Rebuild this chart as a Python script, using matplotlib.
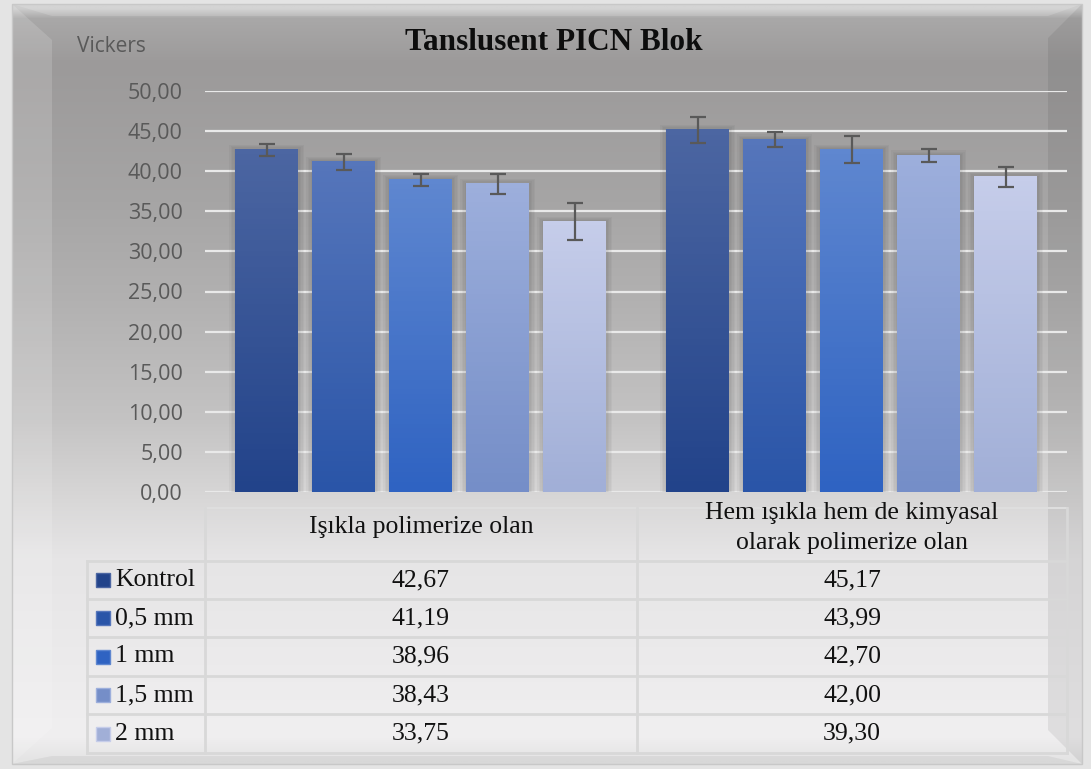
import numpy as np
import matplotlib
matplotlib.use("Agg")
import matplotlib.pyplot as plt
from matplotlib.patches import Rectangle, Polygon
from matplotlib.colors import to_rgb
from matplotlib.ticker import FuncFormatter

# data
groups = ["Işıkla polimerize olan", "Hem ışıkla hem de kimyasal\nolarak polimerize olan"]
series = ["Kontrol", "0,5 mm", "1 mm", "1,5 mm", "2 mm"]
light_cure = [42.67, 41.19, 38.96, 38.43, 33.75]
dual_cure = [45.17, 43.99, 42.70, 42.00, 39.30]
light_err = [0.77, 1.00, 0.75, 1.22, 2.30]
dual_err = [1.62, 0.94, 1.66, 0.80, 1.25]

# gradient colours per series (top, bottom)
bar_colors = [("#4c66a2", "#22438a"),
              ("#5676bb", "#2a55a8"),
              ("#5f87d0", "#2f63c2"),
              ("#9dafdc", "#758ec8"),
              ("#c6cdea", "#a1afd7")]

W, H = 1091, 769
fig = plt.figure(figsize=(W / 100, H / 100), dpi=100)
fig.patch.set_facecolor("#e4e4e4")


def fmt(v):
    return f"{v:.2f}".replace(".", ",")


# ---- background panel with bevel ----
bg = fig.add_axes([0, 0, 1, 1], zorder=0)
bg.set_xlim(0, W)
bg.set_ylim(H, 0)
bg.axis("off")

stops_y = [4, 14, 60, 200, 300, 420, 500, 560, 740, 764]
stops_c = ["#cdcdcd", "#a9a8a8", "#9c9a9a", "#a6a5a5", "#b2b1b1",
           "#c4c3c3", "#d8d7d7", "#e6e5e6", "#f0eff0", "#e4e4e4"]
ys = np.arange(H)
cols = np.array([to_rgb(c) for c in stops_c])
grad = np.stack([np.interp(ys, stops_y, cols[:, k]) for k in range(3)], axis=1)
img = np.repeat(grad[:, None, :], 8, axis=1)
bg.imshow(img, extent=(12, 1082, 764, 4), aspect="auto", zorder=1)
bg.add_patch(Polygon([(12, 4), (52, 40), (52, 728), (12, 764)],
                     closed=True, fc="white", alpha=0.15, lw=0, zorder=2))
bg.add_patch(Polygon([(1082, 4), (1048, 38), (1048, 730), (1082, 764)],
                     closed=True, fc="black", alpha=0.07, lw=0, zorder=2))
bg.add_patch(Polygon([(12, 4), (1082, 4), (1048, 16), (52, 16)],
                     closed=True, fc="white", alpha=0.15, lw=0, zorder=2))
bg.add_patch(Polygon([(12, 764), (1082, 764), (1048, 756), (52, 756)],
                     closed=True, fc="black", alpha=0.05, lw=0, zorder=2))
bg.add_patch(Rectangle((12, 4), 1070, 760, fill=False, ec="#c8c8c8", lw=1, zorder=3))

# ---- bar chart ----
ax = fig.add_axes([205 / W, 1 - 492 / H, 862 / W, 401 / H], zorder=2)
ax.patch.set_alpha(0)
ax.set_xlim(0, 2)
ax.set_ylim(0, 50)
px_x = 2 / 862
px_y = 50 / 401

pitch = 77 * px_x
width = 63 * px_x
centers = [0.5, 1.5]
for gi, (vals, errs) in enumerate([(light_cure, light_err), (dual_cure, dual_err)]):
    for si, (v, e) in enumerate(zip(vals, errs)):
        x0 = centers[gi] + (si - 2) * pitch - width / 2
        # soft shadow
        for k in range(1, 5):
            ax.add_patch(Rectangle((x0 - k * 1.5 * px_x, 0), width + k * 3 * px_x, v + k * 1.2 * px_y,
                                   fc="black", alpha=0.03, lw=0, zorder=2))
        top, bot = (np.array(to_rgb(c)) for c in bar_colors[si])
        t = np.linspace(0, 1, 64)[:, None]
        g = top * (1 - t) + bot * t
        ax.imshow(g[:, None, :], extent=(x0, x0 + width, 0, v), aspect="auto", zorder=3)
        ax.errorbar(x0 + width / 2, v, yerr=e, fmt="none", ecolor="#595959",
                    elinewidth=1.6, capsize=5.5, capthick=1.6, zorder=4)

ax.set_xlim(0, 2)
ax.set_ylim(0, 50)
ax.set_yticks(np.arange(0, 51, 5))
ax.yaxis.set_major_formatter(FuncFormatter(lambda v, p: fmt(v)))
ax.grid(axis="y", color="#e9e9e9", lw=1.6, zorder=1)
ax.set_axisbelow(True)
ax.set_xticks([])
for s in ax.spines.values():
    s.set_visible(False)
ax.tick_params(axis="y", length=0, pad=16, labelsize=15.5, labelcolor="#595959")
for lbl in ax.get_yticklabels():
    lbl.set_family("Open Sans")

fig.text(77 / W, 1 - 47 / H, "Vickers", family="Open Sans", fontsize=15,
         color="#595959", ha="left", va="center")
fig.text(554 / W, 1 - 42 / H, "Tanslusent PICN Blok", family="Liberation Serif",
         fontsize=22.5, fontweight="bold", color="#0d0d0d", ha="center", va="center")

# ---- data table ----
tb = fig.add_axes([0, 0, 1, 1], zorder=3)
tb.set_xlim(0, W)
tb.set_ylim(H, 0)
tb.axis("off")
line_c = "#d8d8d8"
row_y = [561, 599, 637, 676, 714, 753]
col_x = [87, 205, 637, 1067]
for y in row_y:
    tb.plot([87, 1067], [y, y], color=line_c, lw=2, zorder=1)
tb.plot([205, 1067], [508, 508], color="#dedede", lw=1.5, zorder=1)
tb.plot([87, 87], [561, 753], color=line_c, lw=2, zorder=1)
for x in col_x[1:]:
    tb.plot([x, x], [508, 753], color=line_c, lw=2, zorder=1)

tfont = dict(family="Liberation Serif", fontsize=18.5, color="#111111")
tb.text(421, 527, groups[0], ha="center", va="center", **tfont)
tb.text(852, 528, groups[1], ha="center", va="center", linespacing=1.45, **tfont)
for si, name in enumerate(series):
    yc = (row_y[si] + row_y[si + 1]) / 2
    top, bot = bar_colors[si]
    tb.add_patch(Rectangle((96, yc - 7), 14, 14, fc=bot, ec=top, lw=1, zorder=2))
    tb.text(115, yc, name, ha="left", va="center", **tfont)
    tb.text(421, yc, fmt(light_cure[si]), ha="center", va="center", **tfont)
    tb.text(852, yc, fmt(dual_cure[si]), ha="center", va="center", **tfont)

fig.savefig("out.png", dpi=100)
